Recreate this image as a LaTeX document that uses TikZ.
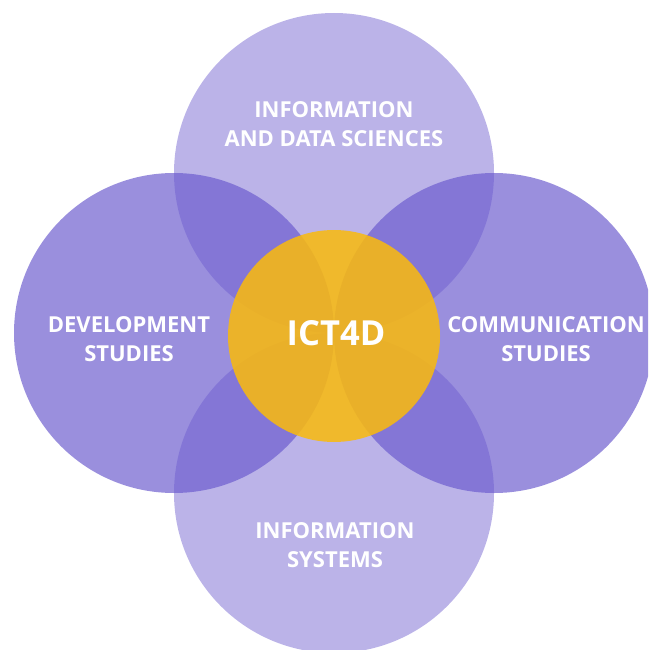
\documentclass[tikz,border=0pt]{standalone}
\usepackage{fontspec}
\setmainfont{Open Sans}
\definecolor{venn}{RGB}{106,90,205}
\definecolor{core}{RGB}{250,186,11}
\begin{document}
\begin{tikzpicture}[x=1pt,y=-1pt,
  outer/.style={fill=venn,fill opacity=0.46},
  side/.style={fill=venn,fill opacity=0.68},
  hub/.style={fill=core,fill opacity=0.85},
  lbl/.style={text=white,align=center,font=\fontsize{22}{29.5}\selectfont\bfseries},
  hublbl/.style={text=white,font=\fontsize{34.5}{38}\selectfont\bfseries}]
\useasboundingbox (0,0) rectangle (648,650);
\clip (0,0) rectangle (648,650);
% four overlapping disciplines
\fill[outer] (334,173) circle[radius=160pt];
\fill[outer] (334,493) circle[radius=160pt];
\fill[side] (174,333) circle[radius=160pt];
\fill[side] (494,333) circle[radius=160pt];
% core field in the middle
\fill[hub] (334,336) circle[radius=106pt];
% labels
\node[lbl] (ids) at (334,124) {INFORMATION\\AND DATA SCIENCES};
\node[lbl] (dev) at (129,339) {DEVELOPMENT\\STUDIES};
\node[lbl] (com) at (546,339) {COMMUNICATION\\STUDIES};
\node[lbl] (sys) at (335,545) {INFORMATION\\SYSTEMS};
\node[hublbl] (ict) at (336,333) {ICT4D};
\end{tikzpicture}
\end{document}
